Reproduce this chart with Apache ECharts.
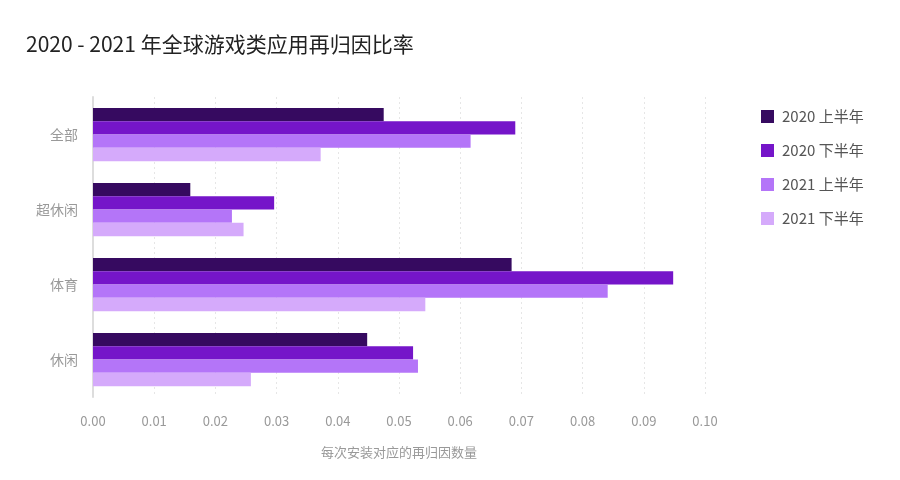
<!DOCTYPE html>
<html>
<head>
<meta charset="utf-8">
<script src="https://cdn.jsdelivr.net/npm/echarts@6/dist/echarts.min.js"></script>
<style>
html,body{margin:0;padding:0;background:#fff;}
#c{width:900px;height:480px;}
</style>
</head>
<body>
<div id="c"></div>
<script>
const titleText = '2020 - 2021 年全球游戏类应用再归因比率';
const categories = ['全部', '超休闲', '体育', '休闲'];
const seriesNames = ['2020 上半年', '2020 下半年', '2021 上半年', '2021 下半年'];
const s2020H1 = [0.0475, 0.0159, 0.0684, 0.0448];
const s2020H2 = [0.0690, 0.0296, 0.0948, 0.0523];
const s2021H1 = [0.0617, 0.0227, 0.0841, 0.0531];
const s2021H2 = [0.0372, 0.0246, 0.0543, 0.0258];
const xTicks = { min: 0, max: 0.10, interval: 0.01 };
const xAxisName = '每次安装对应的再归因数量';
const colors = ['#360a60', '#7515c9', '#b475f8', '#d5aafb'];

const font = '"Noto Sans CJK SC", "Noto Sans", sans-serif';
const values = [s2020H1, s2020H2, s2021H1, s2021H2];
const chart = echarts.init(document.getElementById('c'));
chart.setOption({
  animation: false,
  textStyle: { fontFamily: font },
  title: {
    text: titleText, left: 21, top: 29,
    textStyle: { fontFamily: font, fontSize: 21, fontWeight: 'normal', color: '#222' }
  },
  legend: {
    orient: 'vertical', left: 756, top: 104,
    itemWidth: 13, itemHeight: 13, itemGap: 19,
    icon: 'rect',
    textStyle: { fontFamily: font, fontSize: 15, color: '#555', padding: [0, 0, 0, 3] },
    data: seriesNames
  },
  grid: { left: 93, right: 195, top: 97, bottom: 83 },
  xAxis: {
    type: 'value', min: xTicks.min, max: xTicks.max, interval: xTicks.interval,
    name: xAxisName, nameLocation: 'middle', nameGap: 49,
    nameTextStyle: { fontFamily: font, fontSize: 13, color: '#999' },
    axisLine: { show: false }, axisTick: { show: false },
    axisLabel: { fontFamily: font, fontSize: 13, color: '#999', margin: 18,
      formatter: v => v.toFixed(2) },
    splitLine: { show: true, lineStyle: { type: [2, 3], color: '#e6e6e6' } }
  },
  yAxis: {
    type: 'category', data: categories, inverse: true,
    axisLine: { show: true, lineStyle: { color: '#ddd', width: 2 } },
    axisTick: { show: false },
    axisLabel: { fontFamily: font, fontSize: 14, color: '#999', margin: 15 }
  },
  series: seriesNames.map((n, i) => ({
    name: n, type: 'bar', data: values[i],
    barGap: '0%', barCategoryGap: '29%',
    itemStyle: { color: colors[i] }
  }))
});
</script>
</body>
</html>
